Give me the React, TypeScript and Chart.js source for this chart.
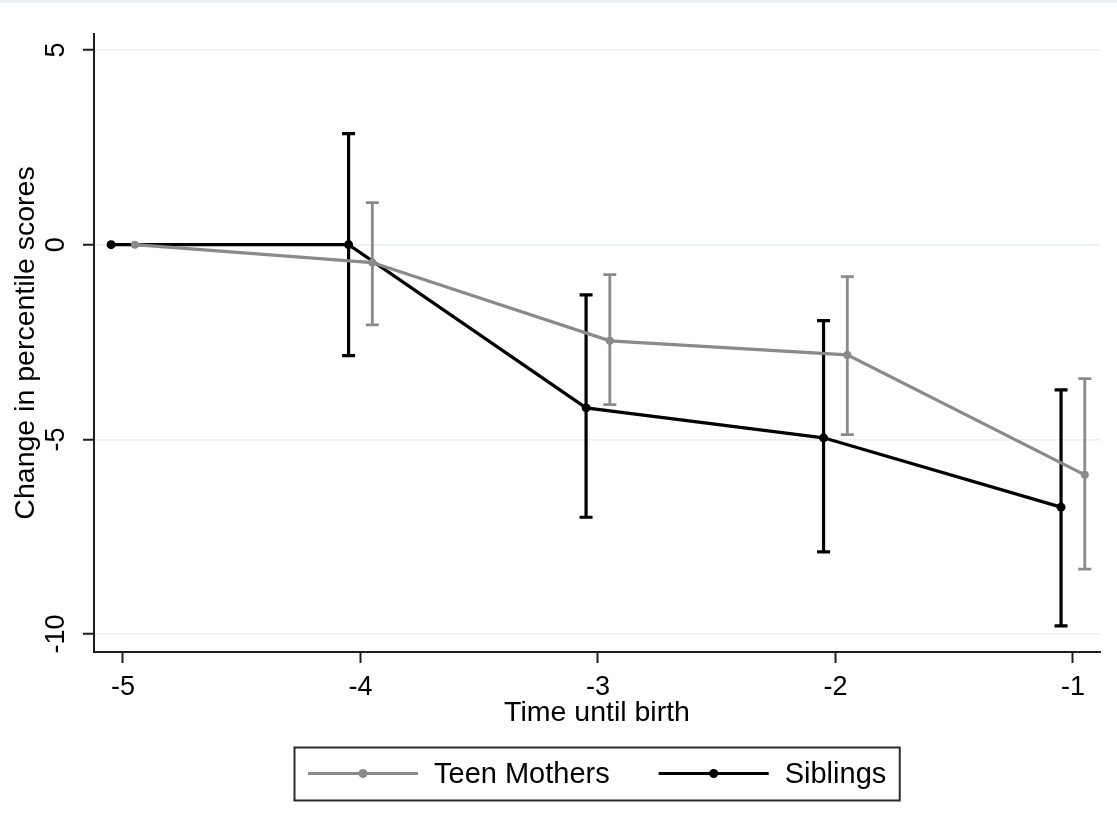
import React, { useEffect, useRef } from 'react';
import { Chart, registerables } from 'chart.js';

Chart.register(...registerables);

// ---- data ----
const timeUntilBirth = [-5, -4, -3, -2, -1];
const teenMothers = [0, -0.46, -2.47, -2.83, -5.91];
const teenLower: (number | null)[] = [null, -2.06, -4.11, -4.88, -8.33];
const teenUpper: (number | null)[] = [null, 1.08, -0.77, -0.82, -3.44];
const siblings = [0, 0, -4.19, -4.96, -6.74];
const sibLower: (number | null)[] = [null, -2.85, -7.0, -7.89, -9.79];
const sibUpper: (number | null)[] = [null, 2.85, -1.29, -1.95, -3.73];
const xTicks = [-5, -4, -3, -2, -1];
const yTicks = [-10, -5, 0, 5];
const seriesLabels = ['Teen Mothers', 'Siblings'];

const DODGE = 0.05;
const GRAY = '#8a8a8a';
const BLACK = '#000000';
const AXIS = '#1e1e1e';
const FONT = "'Liberation Sans', Arial, sans-serif";

const errorBarPlugin = {
  id: 'errorBars',
  beforeDatasetDraw(chart: any, args: any) {
    const ds = chart.data.datasets[args.index];
    if (!ds.lower) return;
    const { ctx, scales } = chart;
    const xs = scales.x;
    const ys = scales.y;
    ctx.save();
    ctx.strokeStyle = ds.borderColor;
    ctx.lineWidth = ds.errWidth || 3;
    ctx.lineCap = 'butt';
    const half = 6.5;
    ds.data.forEach((p: any, i: number) => {
      const lo = ds.lower[i];
      const hi = ds.upper[i];
      if (lo == null || hi == null) return;
      const x = xs.getPixelForValue(p.x);
      const yl = ys.getPixelForValue(lo);
      const yh = ys.getPixelForValue(hi);
      ctx.beginPath();
      ctx.moveTo(x, yl);
      ctx.lineTo(x, yh);
      ctx.moveTo(x - half, yl);
      ctx.lineTo(x + half, yl);
      ctx.moveTo(x - half, yh);
      ctx.lineTo(x + half, yh);
      ctx.stroke();
    });
    ctx.restore();
  },
};

const framePlugin = {
  id: 'frame',
  beforeDraw(chart: any) {
    const { ctx, width } = chart;
    ctx.save();
    ctx.fillStyle = '#ffffff';
    ctx.fillRect(0, 0, width, chart.height);
    ctx.fillStyle = '#edf1f5';
    ctx.fillRect(0, 0, width, 3);
    ctx.restore();
  },
};

const legendPlugin = {
  id: 'boxLegend',
  afterDraw(chart: any) {
    const { ctx, chartArea } = chart;
    const datasets = chart.data.datasets;
    ctx.save();
    ctx.font = `29px ${FONT}`;
    const padL = 14, lineLen = 110, gapText = 16, gapItem = 49, padR = 13;
    const widths = datasets.map((d: any) => ctx.measureText(d.label).width);
    let total = padL + padR;
    datasets.forEach((_: any, i: number) => {
      total += lineLen + gapText + widths[i];
      if (i < datasets.length - 1) total += gapItem;
    });
    const cx = (chartArea.left + chartArea.right) / 2;
    const left = Math.round(cx - total / 2);
    const top = chartArea.bottom + 95;
    const h = 53;
    const cy = top + h / 2;
    ctx.strokeStyle = '#2a2a2a';
    ctx.lineWidth = 2;
    ctx.strokeRect(left + 0.5, top + 0.5, total, h);
    let x = left + padL;
    datasets.forEach((d: any, i: number) => {
      ctx.strokeStyle = d.borderColor;
      ctx.lineWidth = 3;
      ctx.beginPath();
      ctx.moveTo(x, cy);
      ctx.lineTo(x + lineLen, cy);
      ctx.stroke();
      ctx.fillStyle = d.borderColor;
      ctx.beginPath();
      ctx.arc(x + lineLen / 2, cy, 4.5, 0, Math.PI * 2);
      ctx.fill();
      x += lineLen + gapText;
      ctx.fillStyle = '#000';
      ctx.textBaseline = 'middle';
      ctx.textAlign = 'left';
      ctx.fillText(d.label, x, cy + 1);
      x += widths[i] + gapItem;
    });
    ctx.restore();
  },
};

export default function App() {
  const ref = useRef<HTMLCanvasElement | null>(null);

  useEffect(() => {
    if (!ref.current) return;
    document.body.style.margin = '0';
    const chart = new Chart(ref.current, {
      type: 'line',
      data: {
        datasets: [
          {
            label: seriesLabels[0],
            data: timeUntilBirth.map((t, i) => ({ x: t + DODGE, y: teenMothers[i] })),
            borderColor: GRAY,
            backgroundColor: GRAY,
            borderWidth: 3.2,
            pointRadius: 4,
            pointBorderWidth: 0,
            pointBackgroundColor: GRAY,
            tension: 0,
            lower: teenLower,
            upper: teenUpper,
            errWidth: 2.8,
          } as any,
          {
            label: seriesLabels[1],
            data: timeUntilBirth.map((t, i) => ({ x: t - DODGE, y: siblings[i] })),
            borderColor: BLACK,
            backgroundColor: BLACK,
            borderWidth: 3.2,
            pointRadius: 4.5,
            pointBorderWidth: 0,
            pointBackgroundColor: BLACK,
            tension: 0,
            lower: sibLower,
            upper: sibUpper,
            errWidth: 3.2,
          } as any,
        ],
      },
      options: {
        responsive: false,
        animation: false,
        devicePixelRatio: 1,
        layout: { padding: { left: 0, top: 34, right: 17, bottom: 99 } },
        plugins: {
          legend: { display: false },
          tooltip: { enabled: false },
        },
        scales: {
          x: {
            type: 'linear',
            min: -5.122,
            max: -0.886,
            afterBuildTicks: (s: any) => {
              s.ticks = xTicks.map((v) => ({ value: v }));
            },
            afterFit: (s: any) => {
              s.height = 85;
            },
            border: { display: true, color: AXIS, width: 2 },
            grid: {
              drawOnChartArea: false,
              drawTicks: true,
              tickLength: 11,
              tickColor: AXIS,
              tickWidth: 2,
            },
            ticks: {
              color: '#000',
              font: { family: FONT, size: 27 },
              padding: 8,
              maxRotation: 0,
              minRotation: 0,
              callback: (v: any) => String(v),
            },
            title: {
              display: true,
              text: 'Time until birth',
              color: '#000',
              font: { family: FONT, size: 28.5 },
              padding: { top: 0, bottom: 7 },
            },
          },
          y: {
            type: 'linear',
            min: -10.46,
            max: 5.41,
            afterBuildTicks: (s: any) => {
              s.ticks = yTicks.map((v) => ({ value: v }));
            },
            afterFit: (s: any) => {
              s.width = 94;
            },
            border: { display: true, color: AXIS, width: 2 },
            grid: {
              color: '#e9f0f2',
              lineWidth: 1.5,
              drawTicks: true,
              tickLength: 11,
              tickColor: AXIS,
              tickWidth: 2,
            },
            ticks: {
              color: '#000',
              font: { family: FONT, size: 27 },
              padding: 7,
              minRotation: 90,
              maxRotation: 90,
              crossAlign: 'center',
              callback: (v: any) => String(v),
            },
            title: {
              display: true,
              text: 'Change in percentile scores',
              color: '#000',
              font: { family: FONT, size: 28.5 },
              padding: { top: 9, bottom: 0 },
            },
          },
        },
      },
      plugins: [framePlugin, errorBarPlugin, legendPlugin],
    } as any);
    return () => chart.destroy();
  }, []);

  return (
    <div style={{ position: 'absolute', left: 0, top: 0, width: 1117, height: 836 }}>
      <canvas ref={ref} width={1117} height={836} />
    </div>
  );
}
